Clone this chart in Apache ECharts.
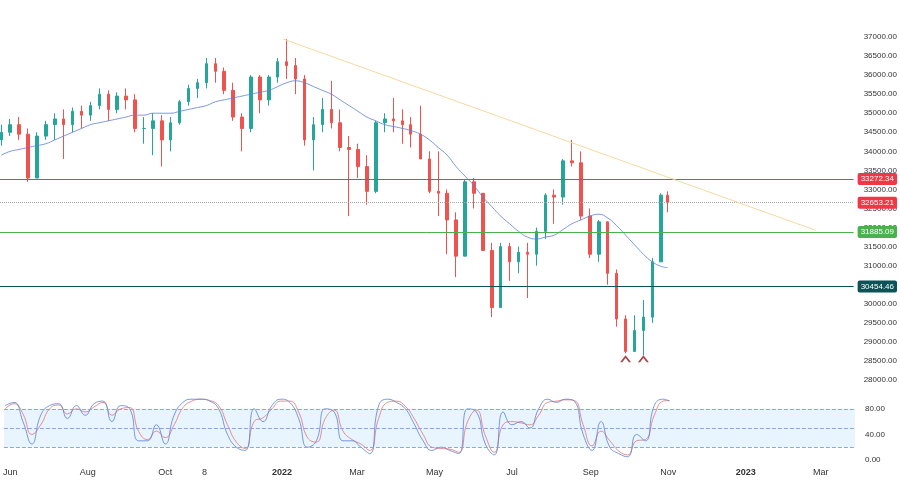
<!DOCTYPE html><html><head><meta charset="utf-8">
<script src="https://cdn.jsdelivr.net/npm/echarts@6/dist/echarts.min.js"></script>
<style>html,body{margin:0;background:#fff}#c{width:900px;height:483px}</style></head><body><div id="c"></div>
<script>
const dates=['2021-05-28','2021-06-04','2021-06-11','2021-06-18','2021-06-25','2021-07-02','2021-07-09','2021-07-16','2021-07-23','2021-07-30','2021-08-06','2021-08-13','2021-08-20','2021-08-27','2021-09-03','2021-09-10','2021-09-17','2021-09-24','2021-10-01','2021-10-08','2021-10-15','2021-10-22','2021-10-29','2021-11-05','2021-11-12','2021-11-19','2021-11-26','2021-12-03','2021-12-10','2021-12-17','2021-12-24','2021-12-31','2022-01-07','2022-01-14','2022-01-21','2022-01-28','2022-02-04','2022-02-11','2022-02-18','2022-02-25','2022-03-04','2022-03-11','2022-03-18','2022-03-25','2022-04-01','2022-04-08','2022-04-14','2022-04-22','2022-04-29','2022-05-06','2022-05-13','2022-05-20','2022-05-27','2022-06-03','2022-06-10','2022-06-17','2022-06-24','2022-07-01','2022-07-08','2022-07-15','2022-07-22','2022-07-29','2022-08-05','2022-08-12','2022-08-19','2022-08-26','2022-09-02','2022-09-09','2022-09-16','2022-09-23','2022-09-30','2022-10-07','2022-10-14','2022-10-21','2022-10-28','2022-11-02'];
const closes=[34500,34700,34450,33300,34400,34700,34850,34700,35050,34950,35200,35500,35100,35450,35350,34600,34600,34800,34300,34750,35300,35650,35800,36300,36100,35600,34900,34600,35950,35350,35950,36350,36250,35900,34300,34700,35100,34750,34100,34050,33600,32950,34750,34850,34800,34700,34450,33800,32950,32900,32200,31250,33200,32900,31400,29900,31500,31100,31350,31300,31900,32850,32800,33750,33700,32300,31300,32150,30800,29600,28750,29300,29650,31100,32850,32650];
const highs=[34700,34850,34900,34600,34500,34800,35000,35100,35150,35200,35300,35650,35600,35550,35650,35500,34900,35000,34950,34900,35350,35750,35900,36450,36450,36200,35800,35000,36000,36000,36000,36450,36950,36450,36000,34900,35400,35850,35100,34400,34200,33900,34800,35000,35400,35100,34900,35200,34000,34000,33000,32400,33250,33300,32900,31600,31600,31600,31500,31600,32000,32900,33000,33800,34300,34000,32500,32200,32000,30900,29700,29700,30100,31200,32900,32950];
const lows=[34150,34400,34300,33200,33300,34300,34300,33800,34500,34600,34800,35100,34800,35000,35100,34500,34200,33900,33600,34000,34700,35200,35400,35650,35800,35500,34800,34000,34500,35000,35200,35800,35900,35500,34150,33500,34500,34600,34000,32300,33300,32600,32900,34500,34500,34200,34100,33800,32900,32300,31300,30700,31300,32500,31400,29650,29900,30600,30800,30150,31000,31700,32100,32600,33600,32200,31200,31100,30500,29400,28700,28800,28650,29500,31100,32400];
const ma50=[33900,34000,34050,34100,34150,34200,34300,34400,34500,34600,34700,34750,34800,34850,34900,34950,34950,35000,35000,35000,35050,35100,35150,35200,35300,35350,35400,35450,35500,35550,35600,35700,35800,35850,35800,35700,35600,35500,35350,35200,35050,34900,34800,34700,34650,34600,34550,34450,34300,34100,33900,33600,33350,33100,32800,32550,32300,32100,31900,31750,31700,31750,31800,31950,32100,32200,32300,32350,32250,32050,31800,31550,31300,31100,30980,30950];
const stochK=[85,90,60,25,70,85,88,65,85,70,88,92,60,85,80,30,30,55,25,70,90,95,95,92,80,40,20,15,80,60,85,95,90,65,20,30,80,75,30,30,20,10,85,95,90,80,60,30,15,20,15,10,80,75,25,8,75,55,60,50,80,95,90,95,92,40,15,60,20,10,5,40,30,85,95,92];
const stochD=[80,88,72,40,55,80,86,72,80,75,83,90,70,80,82,45,32,45,35,55,82,92,95,93,85,55,28,18,60,66,80,92,92,75,35,28,65,78,45,32,25,15,65,90,92,84,68,40,20,18,17,12,60,78,38,12,55,60,58,55,70,90,92,94,93,55,22,45,30,14,8,30,32,70,92,93];
const levels=[{v:33272.34,c:'#f23645',t:'33272.34'},{v:31885.09,c:'#4caf50',t:'31885.09'},{v:30454.46,c:'#0b5357',t:'30454.46'}];
const lastPrice=32653.21;
const trend=[['2022-01-04',36950],['2023-02-26',31930]];
const arrows=[['2022-09-30',28560],['2022-10-14',28560]];
const tickLabels={'2021-5':'Jun','2021-7':'Aug','2021-9':'Oct','2021-10':'8','2022-0':'2022','2022-2':'Mar','2022-4':'May','2022-6':'Jul','2022-8':'Sep','2022-10':'Nov','2023-0':'2023','2023-2':'Mar'};

const ohlc=closes.map((c,i)=>[i?closes[i-1]:34300,c,lows[i],highs[i]]);
const X0=+new Date('2021-05-27'),X1=+new Date('2023-03-28');
const chart=echarts.init(document.getElementById('c'));
const xa=(gi,show)=>({type:'time',gridIndex:gi,min:X0,max:X1,minInterval:28*864e5,maxInterval:31*864e5,
 axisLine:{show:false},axisTick:{show:false},splitLine:{show:false},
 axisLabel:{show:show,color:'#333',fontSize:9,hideOverlap:false,formatter:v=>{const d=new Date(v);const k=d.getFullYear()+'-'+d.getMonth();
  const t=tickLabels[k]||'';return d.getMonth()===0&&t?'{b|'+t+'}':t;},rich:{b:{fontWeight:'bold',fontSize:9,color:'#333'}}}});
chart.setOption({animation:false,
grid:[{left:0,right:45,top:37,height:343},{left:0,right:45,top:396,height:64}],
xAxis:[xa(0,false),xa(1,true)],
yAxis:[{type:'value',gridIndex:0,position:'right',min:28000,max:37000,interval:500,
 axisLine:{show:false},axisTick:{show:false},splitLine:{show:false},axisLabel:{color:'#333',fontSize:8,margin:10,formatter:v=>v.toFixed(2)}},
 {type:'value',gridIndex:1,position:'right',min:0,max:100,interval:40,axisLine:{show:false},axisTick:{show:false},splitLine:{show:false},
 axisLabel:{color:'#333',fontSize:8,margin:10,showMaxLabel:false,formatter:v=>v===100?'':v.toFixed(2)}}],
series:[
{type:'candlestick',xAxisIndex:0,yAxisIndex:0,data:dates.map((d,i)=>[d,...ohlc[i]]),barMaxWidth:3,
 encode:{x:0,y:[1,2,3,4]},
 itemStyle:{color:'#26a69a',color0:'#ef5350',borderColor:'#26a69a',borderColor0:'#ef5350'},
 markLine:{symbol:'none',silent:true,data:[
  ...levels.map(l=>({yAxis:l.v,lineStyle:{color:l.c,width:1,type:'solid'},label:{position:'end',formatter:l.t,color:'#fff',backgroundColor:l.c,padding:[2,3],fontSize:8,borderRadius:2,distance:4}})),
  {yAxis:lastPrice,lineStyle:{color:'#aaa',width:1,type:'dotted'},label:{position:'end',formatter:'32653.21',color:'#fff',backgroundColor:'#f23645',padding:[2,3],fontSize:8,borderRadius:2,distance:4}},
  [{coord:trend[0],lineStyle:{color:'#f5d9a0',width:1,type:'solid'},label:{show:false}},{coord:trend[1]}]
 ]}},
{type:'line',xAxisIndex:0,yAxisIndex:0,data:dates.map((d,i)=>[d,ma50[i]]),smooth:true,showSymbol:false,lineStyle:{color:'#5b7fd6',width:1,opacity:0.8}},
{type:'scatter',xAxisIndex:0,yAxisIndex:0,data:arrows,symbol:'path://M0,10 L5,0 L10,10 L8,10 L5,4 L2,10 Z',symbolSize:[11,7],itemStyle:{color:'#8b1a1a'}},
{type:'line',xAxisIndex:1,yAxisIndex:1,data:dates.map((d,i)=>[d,stochD[i]]),smooth:true,showSymbol:false,lineStyle:{color:'#e57373',width:1,opacity:0.8},
 markArea:{silent:true,itemStyle:{color:'rgba(33,150,243,0.1)'},data:[[{yAxis:20},{yAxis:80}]]},
 markLine:{symbol:'none',silent:true,label:{show:false},lineStyle:{color:'#8aa8d8',type:'dashed',width:1},data:[{yAxis:80},{yAxis:50},{yAxis:20}]}},
{type:'line',xAxisIndex:1,yAxisIndex:1,data:dates.map((d,i)=>[d,stochK[i]]),smooth:true,showSymbol:false,lineStyle:{color:'#5b7fd6',width:1,opacity:0.8}}
]});
</script></body></html>
